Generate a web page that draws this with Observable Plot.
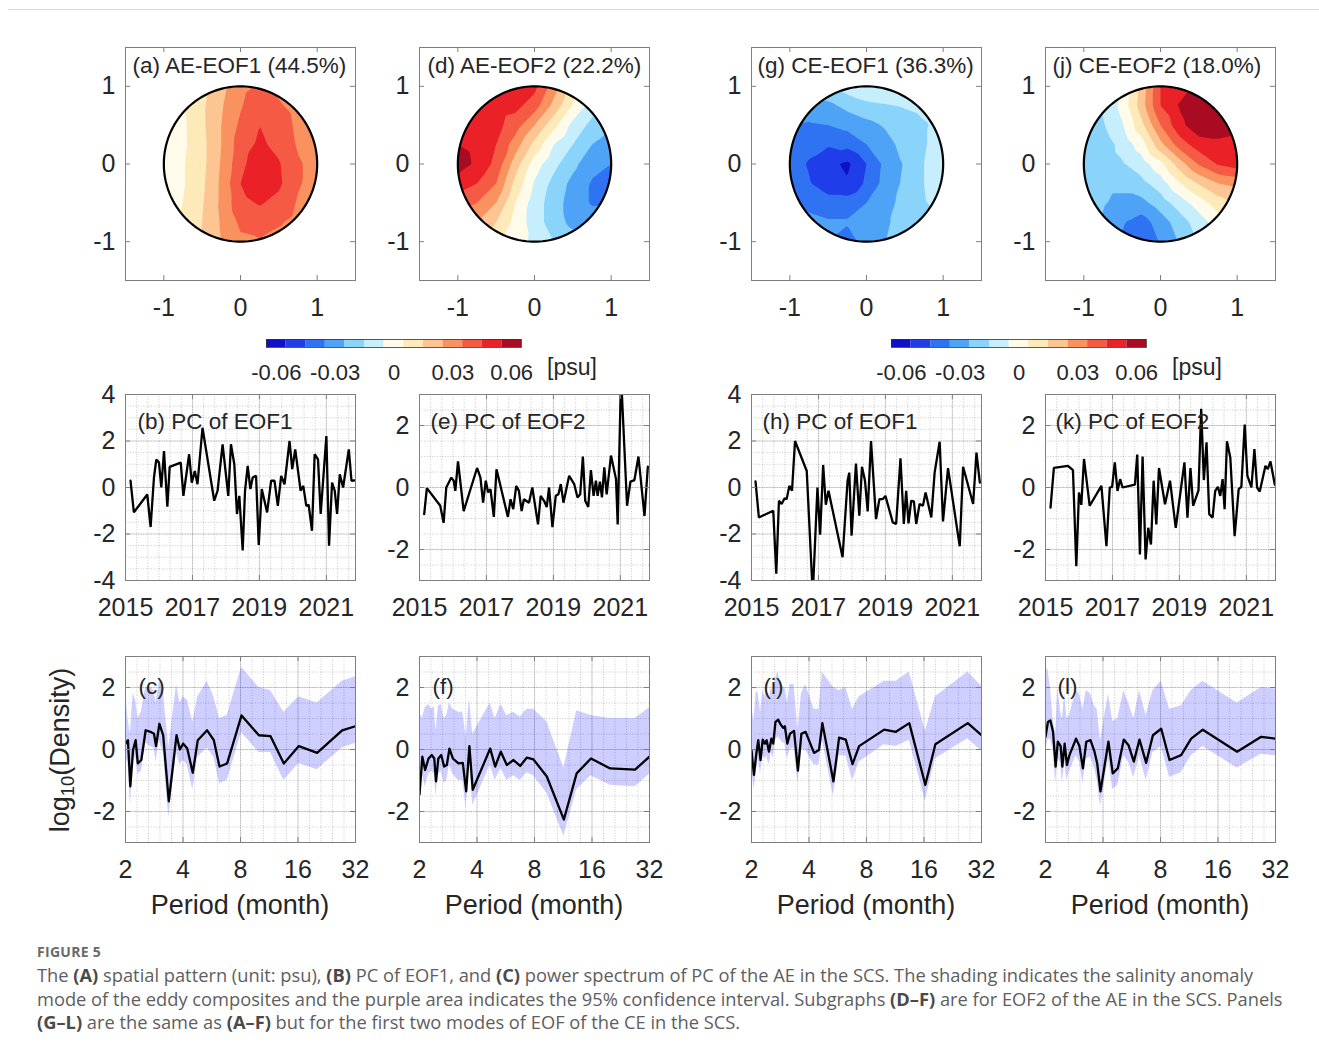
<!DOCTYPE html>
<html><head><meta charset="utf-8">
<script src="https://cdn.jsdelivr.net/npm/d3@7"></script>
<script src="https://cdn.jsdelivr.net/npm/@observablehq/plot@0.6"></script>
<style>
body{margin:0;background:#fff;}
#fig{position:relative;width:1319px;height:1056px;font-family:"Liberation Sans",Arial,Helvetica,sans-serif;color:#262626;overflow:hidden;}
.abs{position:absolute;white-space:nowrap;}
.xl{font-size:27px;transform:translate(-50%,-50%);}
.cap{font-family:"Open Sans",sans-serif;color:#5e5e5e;}
.cap b{color:#4a4a4a;}
</style></head><body><div id="fig"></div>
<script>
// ---------------- data ----------------
const mapAxisTicks = [-1, 0, 1];
const tsYearTicks = [2015, 2017, 2019, 2021];
const specPeriodTicks = [2, 4, 8, 16, 32];
const cbTicks = [-0.06, -0.03, 0, 0.03, 0.06];
const colorbarEdges = [-0.065,-0.055,-0.045,-0.035,-0.025,-0.015,-0.005,0.005,0.015,0.025,0.035,0.045,0.055,0.065];
const salinityLevels = [-0.055,-0.045,-0.035,-0.025,-0.015,-0.005,0.005,0.015,0.025,0.035,0.045,0.055];
const salinityColors = ["#1010c8","#1f3de8","#2f72f2","#4ea3f7","#8ad3fb","#c6eefd","#fffbea","#fee9b9","#fcc592","#f9925f","#f45a44","#ea2228","#a80b22"];

const mapGridX = [-1,-0.75,-0.5,-0.25,0,0.25,0.5,0.75,1];
const mapGridY = [1,0.75,0.5,0.25,0,-0.25,-0.5,-0.75,-1];
const mapTitles = ["(a) AE-EOF1 (44.5%)","(d) AE-EOF2 (22.2%)","(g) CE-EOF1 (36.3%)","(j) CE-EOF2 (18.0%)"];

const eofAE1 = [
 [0.002,0.004,0.012,0.022,0.032,0.036,0.033,0.030,0.030],
 [0.000,0.004,0.013,0.024,0.034,0.042,0.036,0.032,0.030],
 [-0.006,0.003,0.013,0.025,0.037,0.045,0.040,0.033,0.030],
 [-0.006,0.003,0.012,0.025,0.040,0.047,0.042,0.034,0.031],
 [0.000,0.004,0.012,0.026,0.042,0.052,0.046,0.036,0.032],
 [0.001,0.004,0.013,0.027,0.045,0.052,0.047,0.036,0.031],
 [0.002,0.005,0.014,0.027,0.042,0.046,0.042,0.034,0.030],
 [0.003,0.006,0.015,0.026,0.037,0.040,0.036,0.032,0.030],
 [0.004,0.007,0.016,0.025,0.033,0.034,0.032,0.030,0.030]];
const eofAE2 = [
 [0.050,0.050,0.050,0.050,0.048,0.030,0.010,-0.005,-0.015],
 [0.050,0.050,0.050,0.048,0.040,0.022,0.004,-0.010,-0.020],
 [0.052,0.050,0.048,0.040,0.025,0.008,-0.008,-0.018,-0.025],
 [0.055,0.052,0.045,0.030,0.012,-0.005,-0.015,-0.025,-0.030],
 [0.060,0.053,0.042,0.020,0.000,-0.012,-0.022,-0.032,-0.035],
 [0.050,0.045,0.035,0.012,-0.006,-0.018,-0.028,-0.036,-0.036],
 [0.040,0.035,0.025,0.005,-0.010,-0.020,-0.030,-0.036,-0.035],
 [0.030,0.025,0.015,0.002,-0.010,-0.020,-0.028,-0.030,-0.030],
 [0.020,0.015,0.008,0.000,-0.008,-0.015,-0.020,-0.022,-0.022]];
const eofCE1 = [
 [-0.020,-0.020,-0.015,-0.010,-0.005,-0.005,-0.008,-0.010,-0.010],
 [-0.030,-0.030,-0.028,-0.022,-0.018,-0.016,-0.014,-0.012,-0.010],
 [-0.035,-0.036,-0.035,-0.032,-0.028,-0.024,-0.020,-0.016,-0.012],
 [-0.038,-0.042,-0.044,-0.042,-0.035,-0.028,-0.022,-0.016,-0.010],
 [-0.040,-0.046,-0.052,-0.057,-0.045,-0.032,-0.024,-0.015,-0.008],
 [-0.038,-0.044,-0.052,-0.054,-0.043,-0.031,-0.023,-0.015,-0.006],
 [-0.035,-0.038,-0.040,-0.040,-0.035,-0.028,-0.022,-0.016,-0.010],
 [-0.030,-0.032,-0.034,-0.034,-0.030,-0.026,-0.022,-0.018,-0.015],
 [-0.030,-0.030,-0.035,-0.040,-0.030,-0.025,-0.020,-0.018,-0.015]];
const eofCE2 = [
 [-0.015,-0.012,-0.004,0.018,0.045,0.050,0.055,0.058,0.058],
 [-0.018,-0.014,-0.002,0.020,0.045,0.056,0.064,0.064,0.060],
 [-0.020,-0.016,-0.006,0.012,0.035,0.052,0.062,0.062,0.056],
 [-0.022,-0.020,-0.012,0.000,0.022,0.040,0.050,0.052,0.050],
 [-0.020,-0.020,-0.016,-0.010,0.002,0.020,0.036,0.046,0.050],
 [-0.022,-0.022,-0.022,-0.018,-0.010,0.004,0.016,0.025,0.028],
 [-0.022,-0.024,-0.028,-0.028,-0.020,-0.010,0.000,0.010,0.018],
 [-0.020,-0.026,-0.034,-0.040,-0.030,-0.020,-0.010,0.000,0.005],
 [-0.020,-0.026,-0.036,-0.042,-0.034,-0.024,-0.014,-0.005,0.000]];

// PC time series: [decimal year, PC value]
const pcAE1 = [[2015.15,0.29],[2015.25,-1.07],[2015.65,-0.3],[2015.75,-1.7],[2015.85,0.43],[2015.92,1.2],[2016.0,1.07],[2016.07,0.0],[2016.15,1.57],[2016.25,-0.83],[2016.32,0.89],[2016.65,1.07],[2016.73,-0.36],[2016.9,1.43],[2016.98,0.21],[2017.07,0.71],[2017.15,0.14],[2017.3,2.57],[2017.65,-0.57],[2017.75,-0.14],[2017.9,1.86],[2018.07,-0.36],[2018.15,1.86],[2018.25,1.0],[2018.33,-1.14],[2018.4,-0.36],[2018.5,-2.71],[2018.57,-0.14],[2018.65,0.93],[2018.73,-0.07],[2018.8,0.43],[2018.9,0.5],[2018.98,-2.47],[2019.07,-0.07],[2019.23,-1.07],[2019.35,0.29],[2019.45,0.29],[2019.55,-0.79],[2019.65,0.5],[2019.75,0.14],[2019.9,2.0],[2019.98,0.79],[2020.07,1.64],[2020.23,-0.14],[2020.31,0.07],[2020.4,-0.79],[2020.47,-0.74],[2020.57,-1.86],[2020.65,1.43],[2020.75,1.21],[2020.83,-1.14],[2021.0,2.21],[2021.08,-2.5],[2021.17,0.21],[2021.25,-0.14],[2021.32,-1.14],[2021.4,0.57],[2021.5,0.0],[2021.67,1.64],[2021.75,0.29],[2021.85,0.31]];
const pcAE2 = [[2015.14,-0.86],[2015.22,-0.02],[2015.62,-0.59],[2015.72,-1.14],[2015.8,0.0],[2015.95,0.32],[2016.02,0.22],[2016.07,-0.11],[2016.15,0.84],[2016.32,-0.76],[2016.72,0.63],[2016.82,0.32],[2016.9,-0.49],[2016.98,0.22],[2017.05,-0.16],[2017.12,-0.05],[2017.22,-0.95],[2017.3,0.59],[2017.64,-0.95],[2017.72,-0.38],[2017.8,-0.7],[2017.89,0.05],[2017.97,-0.11],[2018.05,-0.76],[2018.12,-0.38],[2018.27,-0.49],[2018.37,0.0],[2018.54,-1.19],[2018.62,-0.27],[2018.72,-0.43],[2018.8,-0.63],[2018.87,0.0],[2018.97,-1.28],[2019.07,-0.27],[2019.15,-0.22],[2019.22,0.11],[2019.3,-0.49],[2019.47,0.38],[2019.62,0.11],[2019.72,-0.32],[2019.8,-0.22],[2019.88,1.0],[2019.95,-0.43],[2020.04,-0.63],[2020.12,0.56],[2020.2,-0.27],[2020.27,0.22],[2020.32,-0.27],[2020.39,0.19],[2020.45,-0.32],[2020.52,0.65],[2020.59,-0.22],[2020.72,1.03],[2020.87,0.27],[2020.92,-1.19],[2021.02,3.6],[2021.2,-0.59],[2021.3,0.19],[2021.42,0.24],[2021.54,1.0],[2021.72,-0.92],[2021.82,0.67]];
const pcCE1 = [[2015.12,0.26],[2015.22,-1.29],[2015.65,-1.0],[2015.74,-3.71],[2015.82,-0.57],[2015.9,-0.71],[2015.99,-0.46],[2016.05,-0.5],[2016.13,0.07],[2016.21,-0.14],[2016.3,2.0],[2016.65,0.71],[2016.83,-4.6],[2016.97,0.0],[2017.05,-2.03],[2017.14,0.97],[2017.22,-0.74],[2017.3,-0.14],[2017.72,-3.0],[2017.87,0.29],[2017.92,0.64],[2017.99,-2.07],[2018.12,1.03],[2018.22,-1.21],[2018.3,0.89],[2018.39,0.29],[2018.47,-1.03],[2018.57,2.0],[2018.72,-1.36],[2018.82,-0.5],[2018.92,-0.5],[2019.0,-0.36],[2019.22,-1.5],[2019.32,-1.57],[2019.45,1.26],[2019.55,-1.57],[2019.62,-0.14],[2019.69,-1.54],[2019.77,-0.57],[2019.85,-0.6],[2019.92,-1.57],[2020.02,-0.71],[2020.12,-0.79],[2020.2,-0.21],[2020.37,-1.29],[2020.47,0.64],[2020.62,1.97],[2020.72,-1.46],[2020.87,0.83],[2021.22,-2.53],[2021.32,0.89],[2021.62,-0.71],[2021.72,1.5],[2021.82,0.21]];
const pcCE2 = [[2015.15,-0.65],[2015.25,0.63],[2015.67,0.7],[2015.82,0.56],[2015.92,-2.54],[2016.0,-0.16],[2016.07,-0.56],[2016.15,0.92],[2016.32,-0.59],[2016.67,0.05],[2016.82,-1.89],[2016.92,0.0],[2016.99,0.02],[2017.07,0.81],[2017.15,-0.11],[2017.23,0.27],[2017.3,0.0],[2017.67,0.09],[2017.74,1.06],[2017.82,-2.16],[2017.9,1.0],[2017.99,-2.32],[2018.07,-1.3],[2018.15,-1.84],[2018.23,0.22],[2018.31,-1.19],[2018.39,0.63],[2018.57,-0.54],[2018.72,0.22],[2018.89,-1.3],[2019.15,0.81],[2019.24,-0.97],[2019.33,0.63],[2019.41,-0.59],[2019.57,-0.09],[2019.65,2.54],[2019.73,0.24],[2019.81,1.46],[2019.89,-0.86],[2019.99,-0.97],[2020.07,-0.11],[2020.15,0.02],[2020.22,-0.27],[2020.29,0.27],[2020.35,-0.7],[2020.42,1.49],[2020.52,0.97],[2020.65,-1.57],[2020.77,-0.05],[2020.85,0.02],[2020.95,2.03],[2021.03,0.38],[2021.15,0.0],[2021.24,1.24],[2021.32,0.0],[2021.4,-0.13],[2021.57,0.7],[2021.64,0.59],[2021.72,0.84],[2021.85,0.09]];

// Power spectra: [period (month), log10 density, lower 95%, upper 95%]
const specAE1 = [[2.0,0.19,-0.3,1.85],[2.06,0.3,-0.4,1.0],[2.12,-1.19,-1.8,0.5],[2.19,-0.02,-0.5,1.8],[2.26,0.3,-0.2,1.6],[2.32,-0.45,-0.8,1.0],[2.42,-0.34,-0.7,1.2],[2.55,0.62,0.2,2.0],[2.70,0.57,0.1,2.0],[2.82,0.51,0.05,1.9],[2.89,0.11,-0.4,1.5],[3.01,0.83,0.3,2.2],[3.15,0.46,-0.1,1.9],[3.37,-1.67,-2.2,0.1],[3.70,0.46,-0.1,2.1],[3.85,0.0,-0.5,1.5],[4.01,0.19,-0.35,1.7],[4.21,0.03,-0.5,1.6],[4.50,-0.75,-1.3,0.9],[4.78,0.3,-0.25,1.7],[5.35,0.62,0.05,2.2],[5.80,0.3,-0.25,1.7],[6.21,-0.55,-1.1,1.0],[6.81,-0.45,-1.0,1.1],[8.10,1.1,0.55,2.65],[9.98,0.46,-0.1,2.0],[11.49,0.43,-0.1,1.9],[13.49,-0.45,-1.0,1.2],[16.16,0.11,-0.45,1.7],[20.15,-0.11,-0.65,1.5],[27.25,0.62,0.05,2.2],[32,0.75,0.2,2.35]];
const specAE2 = [[2.0,-1.46,-1.9,1.2],[2.07,-0.23,-0.8,1.0],[2.14,-0.66,-1.2,1.35],[2.23,-0.29,-0.8,1.45],[2.32,-0.18,-0.7,1.3],[2.39,-0.29,-0.8,1.4],[2.44,-1.03,-1.5,0.6],[2.51,-0.29,-0.8,1.4],[2.60,-0.18,-0.7,1.45],[2.69,-0.55,-1.1,1.0],[2.78,-0.5,-1.0,1.1],[2.87,0.03,-0.5,1.5],[2.99,-0.29,-0.8,1.3],[3.20,-0.45,-1.0,1.2],[3.37,-0.43,-1.0,1.2],[3.51,-1.35,-1.9,0.4],[3.65,0.11,-0.4,1.65],[3.80,-1.3,-1.8,0.5],[4.69,0.03,-0.5,1.5],[4.98,-0.55,-1.0,1.0],[5.33,-0.07,-0.6,1.45],[5.73,-0.5,-1.0,1.1],[6.21,-0.34,-0.85,1.2],[6.73,-0.53,-1.0,1.05],[7.30,-0.26,-0.75,1.3],[7.90,-0.32,-0.85,1.3],[9.28,-0.87,-1.4,0.9],[11.4,-2.26,-2.8,-0.6],[13.3,-0.77,-1.3,1.25],[15.8,-0.29,-0.85,1.1],[19.9,-0.61,-1.15,1.0],[26.9,-0.65,-1.2,1.0],[32,-0.23,-0.8,1.35]];
const specCE1 = [[2.0,-0.02,-0.6,1.5],[2.06,-0.82,-1.3,0.9],[2.12,-0.13,-0.7,1.9],[2.17,0.3,-0.3,1.8],[2.23,-0.34,-0.8,1.2],[2.29,0.32,-0.2,1.9],[2.35,0.19,-0.3,1.7],[2.40,0.3,-0.2,2.0],[2.47,-0.07,-0.5,1.6],[2.54,0.35,-0.1,2.0],[2.60,0.19,-0.3,1.8],[2.67,0.89,0.3,2.3],[2.76,0.96,0.4,2.5],[2.84,0.81,0.3,2.1],[2.93,0.7,0.2,2.0],[2.99,0.75,0.2,2.0],[3.08,0.19,-0.3,1.5],[3.18,0.51,0.0,2.1],[3.34,0.6,0.05,2.1],[3.50,-0.68,-1.1,0.6],[3.65,0.51,0.0,1.8],[3.84,0.57,0.0,2.1],[4.25,-0.11,-0.5,1.3],[4.51,-0.02,-0.5,1.3],[4.70,0.85,0.3,2.5],[5.37,-1.03,-1.5,2.0],[5.75,0.38,-0.2,1.9],[6.23,0.32,-0.2,2.0],[6.76,-0.47,-1.0,1.3],[7.32,0.11,-0.4,1.7],[9.90,0.64,0.15,2.2],[11.41,0.57,0.1,2.2],[13.40,0.85,0.3,2.5],[16.26,-1.14,-1.65,0.6],[18.35,0.17,-0.3,1.7],[27.13,0.85,0.35,2.5],[32,0.46,-0.05,2.05]];
const specCE2 = [[2.0,0.41,-0.1,2.6],[2.06,0.89,0.3,2.6],[2.12,0.94,0.35,2.0],[2.19,0.57,0.0,1.0],[2.26,-0.55,-1.1,0.5],[2.32,0.25,-0.3,2.0],[2.40,0.11,-0.4,1.2],[2.45,-0.55,-1.1,1.0],[2.52,0.19,-0.4,1.8],[2.59,-0.5,-1.0,1.0],[2.67,-0.18,-0.7,1.1],[2.89,0.35,-0.2,1.9],[3.01,0.11,-0.4,1.8],[3.14,-0.61,-1.1,1.3],[3.27,0.25,-0.3,1.9],[3.44,0.3,-0.25,1.8],[3.61,-0.07,-0.6,1.4],[3.73,-0.45,-1.0,1.3],[3.88,-1.35,-1.85,0.3],[4.27,0.25,-0.3,1.8],[4.50,-0.77,-1.3,0.9],[4.78,-0.61,-1.15,1.0],[5.14,0.32,-0.2,1.9],[5.44,0.14,-0.4,1.5],[5.80,-0.39,-0.9,1.0],[6.21,0.32,-0.2,1.9],[6.73,-0.43,-1.0,1.1],[7.30,0.46,-0.1,1.9],[8.07,0.67,0.1,2.2],[8.92,-0.34,-0.9,1.3],[10.26,-0.18,-0.75,1.4],[11.58,0.35,-0.2,1.9],[13.32,0.64,0.1,2.2],[20.15,-0.07,-0.6,1.5],[26.93,0.41,-0.15,2.0],[32,0.35,-0.2,1.95]];

const pcTitles = ["(b) PC of EOF1","(e) PC of EOF2","(h) PC of EOF1","(k) PC of EOF2"];
const specTitles = ["(c)","(f)","(i)","(l)"];

// ---------------- layout / drawing ----------------
const fig = document.getElementById("fig");
const FONT = '"Liberation Sans", Arial, Helvetica, sans-serif';
const frameCol = "#7f7f7f";
const gridCol = "#262626";
const num = d => String(d);
const colLeft = [125, 419, 751, 1045];
const W = 230;
const ML = 60, MR = 14, MT = 12, MB = 52;
let clipId = 0;

function place(node, left, top) {
  const div = document.createElement("div");
  div.className = "abs";
  div.style.left = left + "px";
  div.style.top = top + "px";
  div.appendChild(node);
  fig.appendChild(div);
  return div;
}
function common(w, h) {
  return {width: w + ML + MR, height: h + MT + MB, marginLeft: ML, marginRight: MR, marginTop: MT, marginBottom: MB,
    style: {fontFamily: FONT, fontSize: "25px", color: "#262626", background: "transparent", overflow: "visible"}};
}
function inwardTicks(xt, yt, w, h, len) {
  return [
    Plot.tickX(xt, {x: d => d, insetTop: h - len, stroke: frameCol}),
    Plot.tickX(xt, {x: d => d, insetBottom: h - len, stroke: frameCol}),
    Plot.tickY(yt, {y: d => d, insetRight: w - len, stroke: frameCol}),
    Plot.tickY(yt, {y: d => d, insetLeft: w - len, stroke: frameCol})
  ];
}
function titleMark(t, dx, dy) {
  return Plot.text([t], {text: d => d, frameAnchor: "top-left", textAnchor: "start", lineAnchor: "top", dx, dy, fontSize: 22.5, fill: "#262626"});
}
const circleAngles = d3.range(0, 361, 2).map(a => a * Math.PI / 180);

function mapPanel(grid, title, left, dx) {
  const H = 233;
  const pts = grid.flatMap((row, i) => row.map((v, j) => ({x: mapGridX[j], y: mapGridY[i], v})));
  const svg = Plot.plot({
    ...common(W, H),
    x: {domain: [-1.5, 1.5], label: null},
    y: {domain: [-1.5, 1.5], label: null},
    color: {type: "threshold", domain: salinityLevels, range: salinityColors},
    marks: [
      Plot.contour(pts, {x: "x", y: "y", fill: "v", interpolate: "barycentric", thresholds: [-1, ...salinityLevels], stroke: "none"}),
      Plot.line(circleAngles, {x: a => Math.cos(a), y: a => Math.sin(a), stroke: "#000", strokeWidth: 2.2}),
      Plot.frame({stroke: frameCol}),
      ...inwardTicks(mapAxisTicks, mapAxisTicks, W, H, 5),
      Plot.axisX(mapAxisTicks, {tickSize: 0, tickPadding: 18, tickFormat: num, label: null}),
      Plot.axisY(mapAxisTicks, {tickSize: 0, tickPadding: 10, tickFormat: num, label: null}),
      titleMark(title, dx, 10)
    ]
  });
  const xs = svg.scale("x"), ys = svg.scale("y");
  const cx = xs.apply(0), cy = ys.apply(0), rx = xs.apply(1) - cx, ry = ys.apply(-1) - cy;
  const ns = "http://www.w3.org/2000/svg";
  const id = "eddyclip" + (clipId++);
  const defs = document.createElementNS(ns, "defs");
  const cp = document.createElementNS(ns, "clipPath");
  cp.setAttribute("id", id);
  const el = document.createElementNS(ns, "ellipse");
  el.setAttribute("cx", cx); el.setAttribute("cy", cy); el.setAttribute("rx", rx); el.setAttribute("ry", ry);
  cp.appendChild(el); defs.appendChild(cp);
  svg.insertBefore(defs, svg.firstChild);
  const g = svg.querySelector('g[aria-label="contour"]');
  if (g) g.setAttribute("clip-path", `url(#${id})`);
  place(svg, left - ML, 47 - MT);
}

function gridMarks(xMinor, yMinor, xMajor, yMajor) {
  return [
    Plot.ruleX(xMinor, {x: d => d, stroke: gridCol, strokeOpacity: 0.3, strokeWidth: 0.8, strokeDasharray: "1,1.6"}),
    Plot.ruleY(yMinor, {y: d => d, stroke: gridCol, strokeOpacity: 0.3, strokeWidth: 0.8, strokeDasharray: "1,1.6"}),
    Plot.ruleX(xMajor, {x: d => d, stroke: gridCol, strokeOpacity: 0.2, strokeWidth: 0.8}),
    Plot.ruleY(yMajor, {y: d => d, stroke: gridCol, strokeOpacity: 0.2, strokeWidth: 0.8})
  ];
}

function tsPanel(series, yDom, yTicks, title, left, dx) {
  const H = 186;
  const xMinor = d3.range(2015, 2021.87, 1 / 3);
  const yMinor = d3.range(yDom[0], yDom[1] + 1e-9, 0.5);
  const svg = Plot.plot({
    ...common(W, H),
    x: {domain: [2015, 2021.87], label: null},
    y: {domain: yDom, label: null},
    marks: [
      ...gridMarks(xMinor, yMinor, tsYearTicks, yTicks),
      Plot.line(series, {x: d => d[0], y: d => d[1], stroke: "#000", strokeWidth: 2.3, strokeLinejoin: "miter", clip: true}),
      Plot.frame({stroke: frameCol}),
      ...inwardTicks(tsYearTicks, yTicks, W, H, 5),
      Plot.axisX(tsYearTicks, {tickSize: 0, tickPadding: 18, tickFormat: num, label: null}),
      Plot.axisY(yTicks, {tickSize: 0, tickPadding: 10, tickFormat: num, label: null}),
      titleMark(title, dx, 19)
    ]
  });
  place(svg, left - ML, 394 - MT);
}

function specPanel(spec, title, left, dx) {
  const H = 186;
  const xMinor = d3.range(0, 21).map(k => Math.pow(2, 1 + k / 5));
  const yMinor = d3.range(-3, 3.01, 0.5);
  const yTicks = [-2, 0, 2];
  const svg = Plot.plot({
    ...common(W, H),
    x: {type: "log", base: 2, domain: [2, 32], label: null},
    y: {domain: [-3, 3], label: null},
    marks: [
      ...gridMarks(xMinor, yMinor, specPeriodTicks, yTicks),
      Plot.areaY(spec, {x: d => d[0], y1: d => d[2], y2: d => d[3], fill: "#0000ff", fillOpacity: 0.19, clip: true}),
      Plot.line(spec, {x: d => d[0], y: d => d[1], stroke: "#000", strokeWidth: 2.3, clip: true}),
      Plot.frame({stroke: frameCol}),
      ...inwardTicks(specPeriodTicks, yTicks, W, H, 5),
      Plot.axisX(specPeriodTicks, {tickSize: 0, tickPadding: 18, tickFormat: num, label: null}),
      Plot.axisY(yTicks, {tickSize: 0, tickPadding: 10, tickFormat: num, label: null}),
      titleMark(title, dx, 22)
    ]
  });
  place(svg, left - ML, 656 - MT);
}

function colorbar(left) {
  const CW = 255, CH = 8;
  const bins = d3.pairs(colorbarEdges);
  const svg = Plot.plot({
    width: CW + 60 + 20, height: CH + 2 + 45, marginLeft: 60, marginRight: 20, marginTop: 2, marginBottom: 45,
    style: {fontFamily: FONT, fontSize: "22px", color: "#262626", background: "transparent", overflow: "visible"},
    x: {domain: [-0.065, 0.065], label: null},
    color: {type: "threshold", domain: salinityLevels, range: salinityColors},
    marks: [
      Plot.rect(bins, {x1: d => d[0], x2: d => d[1], fill: d => (d[0] + d[1]) / 2}),
      Plot.frame({stroke: "#333", strokeWidth: 0.8}),
      Plot.axisX(cbTicks, {tickSize: 0, tickPadding: 17, tickFormat: num, label: null})
    ]
  });
  place(svg, left - 60, 339 - 2);
}

[eofAE1, eofAE2, eofCE1, eofCE2].forEach((g, i) => mapPanel(g, mapTitles[i], colLeft[i], [7, 8, 6, 7][i]));
[[pcAE1, [-4, 4], [-4, -2, 0, 2, 4]], [pcAE2, [-3, 3], [-2, 0, 2]], [pcCE1, [-4, 4], [-4, -2, 0, 2, 4]], [pcCE2, [-3, 3], [-2, 0, 2]]]
  .forEach(([s, dom, yt], i) => tsPanel(s, dom, yt, pcTitles[i], colLeft[i], [12, 11, 11, 10][i]));
[specAE1, specAE2, specCE1, specCE2].forEach((s, i) => specPanel(s, specTitles[i], colLeft[i], [13, 13, 12, 12][i]));
colorbar(266);
colorbar(891);

// HTML labels
function label(html, cls, css) {
  const d = document.createElement("div");
  d.className = "abs " + cls;
  d.innerHTML = html;
  Object.assign(d.style, css);
  fig.appendChild(d);
}
label("[psu]", "", {left: "547px", top: "354px", fontSize: "23px"});
label("[psu]", "", {left: "1172px", top: "354px", fontSize: "23px"});
colLeft.forEach(l => label("Period (month)", "xl", {left: (l + 115) + "px", top: "905px"}));
label('log<sub style="font-size:0.68em;vertical-align:-0.3em">10</sub>(Density)', "", {left: "62px", top: "750px", fontSize: "27px", transform: "translate(-50%,-50%) rotate(-90deg)"});

// top rule and caption
label("", "", {left: "8px", top: "9px", width: "1311px", height: "0", borderTop: "1px solid #d9d9d9"});
label("FIGURE 5", "cap", {left: "37px", top: "942px", fontSize: "14px", fontWeight: "700", letterSpacing: "0.3px", color: "#6a6a6a"});
label('The <b>(A)</b> spatial pattern (unit: psu), <b>(B)</b> PC of EOF1, and <b>(C)</b> power spectrum of PC of the AE in the SCS. The shading indicates the salinity anomaly<br>mode of the eddy composites and the purple area indicates the 95% confidence interval. Subgraphs <b>(D–F)</b> are for EOF2 of the AE in the SCS. Panels<br><b>(G–L)</b> are the same as <b>(A–F)</b> but for the first two modes of EOF of the CE in the SCS.',
  "cap", {left: "37px", top: "963px", fontSize: "18.3px", lineHeight: "23.5px"});
</script>
</body></html>
